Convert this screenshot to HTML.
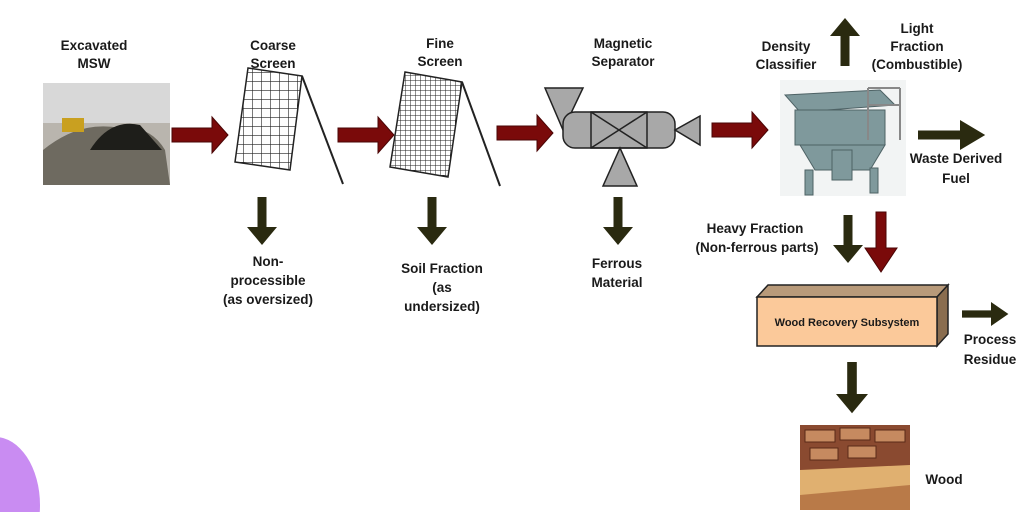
<!DOCTYPE html>
<html><head><meta charset="utf-8"><style>
html,body{margin:0;padding:0;background:#fff;width:1024px;height:512px;overflow:hidden;}
svg{display:block}
text{font-family:"Liberation Sans",Arial,sans-serif;font-size:13.5px;font-weight:bold;fill:#1a1a1a;text-anchor:middle}
</style></head><body>
<svg width="1024" height="512" viewBox="0 0 1024 512" xmlns="http://www.w3.org/2000/svg">
<defs>
<g id="ra"><path d="M0,-7 H40 V-18 L56,0 L40,18 V7 H0 Z" fill="#7a0a0a" stroke="#4a0505" stroke-width="1"/></g>
<g id="da"><path d="M0,-3 H20 V-10 L32,0 L20,10 V3 H0 Z" fill="#2a2a10"/></g>
<pattern id="g1" width="9" height="9" patternUnits="userSpaceOnUse"><path d="M0,0H9M0,0V9" stroke="#222" stroke-width="1.2" fill="none"/></pattern>
<pattern id="g2" width="5" height="5" patternUnits="userSpaceOnUse"><path d="M0,0H5M0,0V5" stroke="#222" stroke-width="1" fill="none"/></pattern>
</defs>
<ellipse cx="-5" cy="505" rx="45" ry="68" fill="#c98cf2"/>
<text x="94" y="50">Excavated</text><text x="94" y="68">MSW</text>
<text x="273" y="50">Coarse</text><text x="273" y="68">Screen</text>
<text x="440" y="48">Fine</text><text x="440" y="66">Screen</text>
<text x="623" y="48">Magnetic</text><text x="623" y="66">Separator</text>
<text x="786" y="51">Density</text><text x="786" y="69">Classifier</text>
<text x="917" y="33">Light</text><text x="917" y="51">Fraction</text><text x="917" y="69">(Combustible)</text>
<rect x="43" y="83" width="127" height="102" fill="#b9b5ae"/>
<rect x="43" y="83" width="127" height="40" fill="#d8d8d8"/>
<path d="M43,150 Q80,120 120,128 Q150,125 165,150 L170,185 H43Z" fill="#6e6a60"/>
<path d="M90,150 Q110,118 140,125 L162,150Z" fill="#1e1e1a"/>
<rect x="62" y="118" width="22" height="14" fill="#c9a020"/>
<use href="#ra" x="172" y="135"/>
<use href="#ra" x="338" y="135"/>
<use href="#ra" x="497" y="133"/>
<use href="#ra" x="712" y="130"/>
<polygon points="248,68 302,76 290,170 235,162" fill="url(#g1)" stroke="#222" stroke-width="1.5"/>
<line x1="302" y1="76" x2="343" y2="184" stroke="#222" stroke-width="2"/>
<polygon points="405,72 462,82 448,177 390,167" fill="url(#g2)" stroke="#222" stroke-width="1.5"/>
<line x1="462" y1="82" x2="500" y2="186" stroke="#222" stroke-width="2"/>
<g fill="#a8a8a8" stroke="#222" stroke-width="1.5">
<polygon points="545,88 583,88 563,130"/>
<rect x="563" y="112" width="112" height="36" rx="12"/>
<polygon points="620,148 603,186 637,186"/>
<polygon points="675,130 700,116 700,145"/>
</g>
<g stroke="#222" stroke-width="1.5" fill="none">
<rect x="591" y="112" width="56" height="36"/>
<line x1="591" y1="112" x2="647" y2="148"/><line x1="647" y1="112" x2="591" y2="148"/>
</g>
<rect x="780" y="80" width="126" height="116" fill="#f2f4f4"/>
<g fill="#7f999c" stroke="#4e6265" stroke-width="1">
<polygon points="785,95 880,90 895,105 800,112"/>
<rect x="795" y="110" width="90" height="35"/>
<polygon points="800,145 885,145 870,170 815,170"/>
<rect x="805" y="170" width="8" height="25"/><rect x="870" y="168" width="8" height="25"/>
<rect x="832" y="150" width="20" height="30"/>
</g>
<path d="M868,88 V140 M900,88 V140 M868,88 H900 M868,105 H900" stroke="#888" stroke-width="2" fill="none"/>
<use href="#da" transform="translate(262,197) rotate(90) scale(1.5)"/>
<use href="#da" transform="translate(432,197) rotate(90) scale(1.5)"/>
<use href="#da" transform="translate(618,197) rotate(90) scale(1.5)"/>
<use href="#da" transform="translate(848,215) rotate(90) scale(1.5)"/>
<use href="#da" transform="translate(845,66) rotate(-90) scale(1.5)"/>
<use href="#da" transform="translate(918,135) scale(2.1,1.5)"/>
<use href="#da" transform="translate(962,314) scale(1.45,1.2)"/>
<use href="#da" transform="translate(852,362) rotate(90) scale(1.6)"/>
<path d="M876,212 H886 V248 H897 L881,272 L865,248 H876Z" fill="#7a0a0a" stroke="#4a0505"/>
<text x="268" y="266">Non-</text><text x="268" y="285">processible</text><text x="268" y="304">(as oversized)</text>
<text x="442" y="273">Soil Fraction</text><text x="442" y="292">(as</text><text x="442" y="311">undersized)</text>
<text x="617" y="268">Ferrous</text><text x="617" y="287">Material</text>
<text x="755" y="233">Heavy Fraction</text><text x="757" y="252">(Non-ferrous parts)</text>
<text x="956" y="163">Waste Derived</text><text x="956" y="183">Fuel</text>
<text x="990" y="344">Process</text><text x="990" y="364">Residue</text>
<text x="944" y="484">Wood</text>
<polygon points="757,297 768,285 948,285 937,297" fill="#b89a7a" stroke="#222" stroke-width="1.5"/>
<polygon points="937,297 948,285 948,334 937,346" fill="#8a6d4f" stroke="#222" stroke-width="1.5"/>
<rect x="757" y="297" width="180" height="49" fill="#fbc99a" stroke="#222" stroke-width="1.5"/>
<text x="847" y="326" style="font-size:11px;font-weight:bold">Wood Recovery Subsystem</text>
<rect x="800" y="425" width="110" height="85" fill="#8a4a30"/>
<g fill="#c68a60" stroke="#5a2a18" stroke-width="1">
<rect x="805" y="430" width="30" height="12"/><rect x="840" y="428" width="30" height="12"/><rect x="875" y="430" width="30" height="12"/>
<rect x="810" y="448" width="28" height="12"/><rect x="848" y="446" width="28" height="12"/>
</g>
<polygon points="800,470 910,465 910,490 800,500" fill="#e0b070"/>
<polygon points="800,495 910,485 910,510 800,510" fill="#b97a48"/>
</svg>
</body></html>
